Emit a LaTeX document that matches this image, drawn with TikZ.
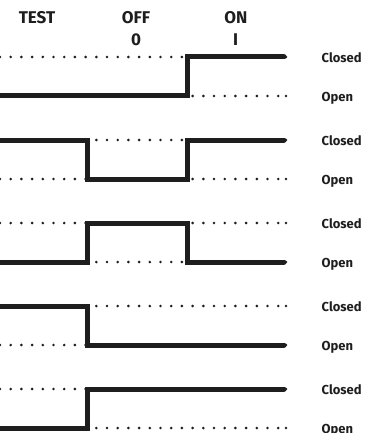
\documentclass[tikz,border=0pt]{standalone}
\usepackage{fontspec}
\setmainfont{Fira Sans}
\definecolor{ink}{HTML}{1E1E1E}
\begin{document}
\begin{tikzpicture}[x=1pt,y=-1pt,
  sig/.style={line width=5pt, draw=ink, line join=miter, line cap=round},
  guide/.style={line width=2.9pt, draw=ink, line cap=round, dash pattern=on 0pt off 10.7pt},
  enddot/.style={fill=ink},
  hdr/.style={font=\bfseries\fontsize{17}{17}\selectfont, text=ink, anchor=base, inner sep=0pt},
  lbl/.style={font=\bfseries\fontsize{13}{13}\selectfont, text=ink, anchor=base west, inner sep=0pt}]
\useasboundingbox (0,0) rectangle (380,433);
% headers
\node[hdr] (test) at (37,24) {TEST};
\node[hdr] (off) at (136,24) {OFF};
\node[hdr] (zero) at (136,45.5) {0};
\node[hdr] (on) at (236,24) {ON};
\node[hdr] (one) at (235.5,45.5) {I};
% guide dotted lines
\foreach \y in {57,96,140,179,223,262,306,345,389,428}{
  \draw[guide] (0,\y) -- (286,\y);
  \fill[enddot] (286,\y) circle (1.45);
}
% signals
\draw[sig] (-5,96) -- (187,96) -- (187,57) -- (284,57);
\draw[sig] (-5,140) -- (87,140) -- (87,179) -- (187,179) -- (187,140) -- (284,140);
\draw[sig] (-5,262) -- (87,262) -- (87,223) -- (187,223) -- (187,262) -- (284,262);
\draw[sig] (-5,306) -- (87,306) -- (87,345) -- (284,345);
\draw[sig] (-5,428) -- (87,428) -- (87,389) -- (284,389);
% labels
\node[lbl] (c1) at (321.5,62.5) {Closed};
\node[lbl] (o1) at (321.5,101.5) {Open};
\node[lbl] (c2) at (321.5,145.5) {Closed};
\node[lbl] (o2) at (321.5,184.5) {Open};
\node[lbl] (c3) at (321.5,228.5) {Closed};
\node[lbl] (o3) at (321.5,267.5) {Open};
\node[lbl] (c4) at (321.5,311.5) {Closed};
\node[lbl] (o4) at (321.5,350.5) {Open};
\node[lbl] (c5) at (321.5,394.5) {Closed};
\node[lbl] (o5) at (321.5,433.5) {Open};
\end{tikzpicture}
\end{document}
